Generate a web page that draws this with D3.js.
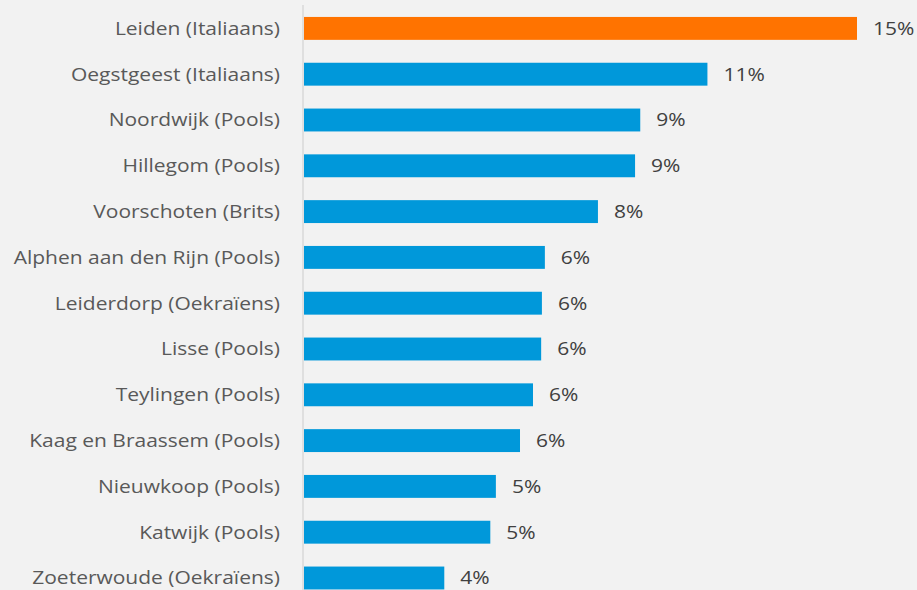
<!DOCTYPE html>
<html>
<head>
<meta charset="utf-8">
<script src="https://cdn.jsdelivr.net/npm/d3@7"></script>
<style>
  html, body { margin: 0; padding: 0; background: #f2f2f2; overflow: hidden; }
  text { font-family: "Open Sans", "Noto Sans", sans-serif; }
</style>
</head>
<body>
<div id="chart"></div>
<script>
// Gemeenten met de grootste groep (nationaliteit)
const categories = [
    "Leiden (Italiaans)", "Oegstgeest (Italiaans)", "Noordwijk (Pools)", "Hillegom (Pools)",
    "Voorschoten (Brits)", "Alphen aan den Rijn (Pools)", "Leiderdorp (Oekraïens)", "Lisse (Pools)",
    "Teylingen (Pools)", "Kaag en Braassem (Pools)", "Nieuwkoop (Pools)", "Katwijk (Pools)",
    "Zoeterwoude (Oekraïens)"
];
const values = [0.149, 0.1087, 0.0906, 0.0892, 0.0792, 0.0649, 0.0641, 0.0639, 0.0617, 0.0582, 0.0517, 0.0502, 0.0378];
const highlight = "Leiden (Italiaans)";

const width = 917, height = 590;
const axisX = 303;
const stretch = 1.2; // reference text is wider than tall
const data = categories.map((c, i) => ({ name: c, value: values[i] }));

const svg = d3.select("#chart").append("svg")
    .attr("width", width)
    .attr("height", height)
    .style("display", "block");

const x = d3.scaleLinear().domain([0, 0.149]).range([axisX + 1, 857]);
const y = d3.scaleBand().domain(categories).range([5.5, 5.5 + 13 * 45.8])
    .paddingInner(0.5).paddingOuter(0.25);
const fmt = d3.format(".0%");
const cy = d => y(d.name) + y.bandwidth() / 2;

// bars
svg.selectAll("rect.bar")
    .data(data)
    .enter()
    .append("rect")
    .attr("class", "bar")
    .attr("x", x(0))
    .attr("y", d => y(d.name))
    .attr("width", d => x(d.value) - x(0))
    .attr("height", y.bandwidth())
    .attr("fill", d => d.name === highlight ? "#ff7300" : "#0098da");

// category axis line
svg.append("line")
    .attr("x1", axisX).attr("x2", axisX)
    .attr("y1", 5).attr("y2", height)
    .attr("stroke", "#d9d9d9")
    .attr("stroke-width", 1.5);

// category labels
svg.selectAll("text.cat")
    .data(data)
    .enter()
    .append("text")
    .attr("class", "cat")
    .attr("transform", d => `translate(280,${cy(d)}) scale(${stretch},1)`)
    .attr("dy", "0.36em")
    .attr("text-anchor", "end")
    .attr("font-size", 17.5)
    .attr("fill", "#595959")
    .text(d => d.name);

// value labels
svg.selectAll("text.val")
    .data(data)
    .enter()
    .append("text")
    .attr("class", "val")
    .attr("transform", d => `translate(${x(d.value) + 16},${cy(d)}) scale(${stretch},1)`)
    .attr("dy", "0.36em")
    .attr("font-size", 17.5)
    .attr("fill", "#404040")
    .text(d => fmt(d.value));
</script>
</body>
</html>
